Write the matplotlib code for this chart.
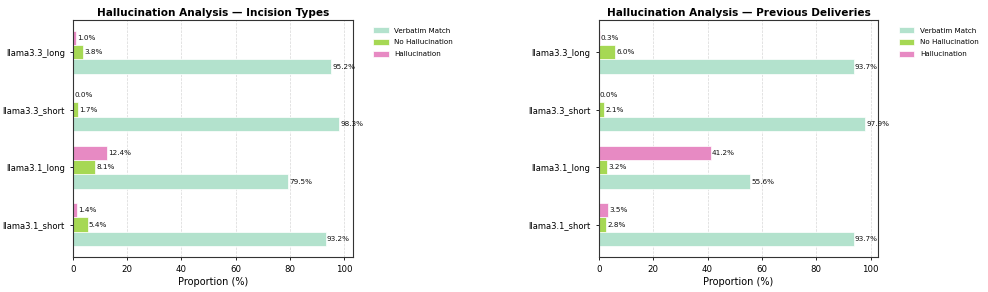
import matplotlib.pyplot as plt
import numpy as np

# Data
models = ['llama3.1_short', 'llama3.1_long', 'llama3.3_short', 'llama3.3_long']
series = ['Verbatim Match', 'No Hallucination', 'Hallucination']
colors = ['#b3e2cd', '#a6d854', '#e78ac3']

incision_verbatim = [93.2, 79.5, 98.3, 95.2]
incision_nohall = [5.4, 8.1, 1.7, 3.8]
incision_hall = [1.4, 12.4, 0.0, 1.0]

previous_verbatim = [93.7, 55.6, 97.9, 93.7]
previous_nohall = [2.8, 3.2, 2.1, 6.0]
previous_hall = [3.5, 41.2, 0.0, 0.3]

panels = [
    ('Hallucination Analysis — Incision Types', [incision_verbatim, incision_nohall, incision_hall]),
    ('Hallucination Analysis — Previous Deliveries', [previous_verbatim, previous_nohall, previous_hall]),
]

fig = plt.figure(figsize=(9.88, 2.92), dpi=100)
lefts = [0.074, 0.606]
y = np.arange(len(models))
h = 0.25
offsets = [-h, 0, h]

for left, (title, vals) in zip(lefts, panels):
    ax = fig.add_axes([left, 0.12, 0.283, 0.812])
    for name, v, c, off in zip(series, vals, colors, offsets):
        bars = ax.barh(y + off, v, height=h, color=c, edgecolor='white', linewidth=0.5, label=name, zorder=2)
        for b, val in zip(bars, v):
            ax.text(b.get_width() + 0.4, b.get_y() + b.get_height() / 2, f'{val:.1f}%',
                    va='center', ha='left', fontsize=5.2, color='#111111', zorder=3)
    ax.set_yticks(y)
    ax.set_yticklabels(models, fontsize=6)
    ax.tick_params(axis='x', labelsize=6.2)
    ax.tick_params(length=2.5, width=0.6)
    ax.set_xlabel('Proportion (%)', fontsize=7, labelpad=2)
    ax.set_title(title, fontsize=7.6, fontweight='bold', pad=3)
    ax.grid(axis='x', linestyle='--', alpha=0.5, linewidth=0.5, zorder=0)
    for s in ax.spines.values():
        s.set_linewidth(0.8)
        s.set_color('#333333')
    ax.legend(loc='upper left', bbox_to_anchor=(1.05, 0.995), frameon=False, fontsize=5.1,
              handlelength=2.2, handleheight=0.9, labelspacing=0.75)

plt.savefig('out.png', dpi=100)
